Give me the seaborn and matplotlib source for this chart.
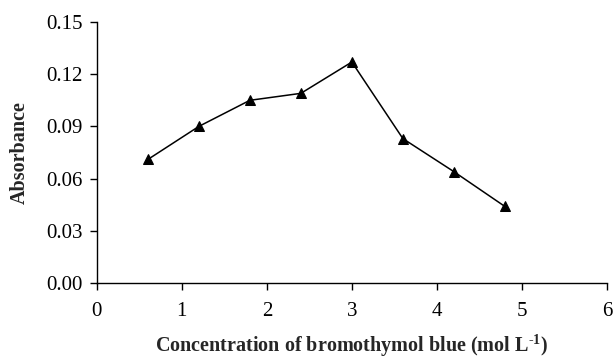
"""
Absorbance vs bromothymol blue concentration
"""

import matplotlib
matplotlib.use("Agg")
import matplotlib.pyplot as plt
import seaborn as sns
import pandas as pd

# Data
concentration = [0.6, 1.2, 1.8, 2.4, 3.0, 3.6, 4.2, 4.8]
absorbance = [0.071, 0.090, 0.105, 0.109, 0.127, 0.083, 0.064, 0.044]
x_ticks = [0, 1, 2, 3, 4, 5, 6]
y_ticks = [0.00, 0.03, 0.06, 0.09, 0.12, 0.15]

sns.set_style("ticks")
plt.rcParams['font.family'] = ['Liberation Serif', 'DejaVu Serif']
plt.rcParams['mathtext.fontset'] = 'custom'
plt.rcParams['mathtext.rm'] = 'Liberation Serif:bold'
plt.rcParams['mathtext.bf'] = 'Liberation Serif:bold'

df = pd.DataFrame({'conc': concentration, 'abs': absorbance})

fig = plt.figure(figsize=(6.13, 3.58), dpi=100)
ax = fig.add_axes([0.158, 0.2095, 0.832, 0.729])

sns.lineplot(data=df, x='conc', y='abs', ax=ax, color='black',
             linewidth=1.1, marker='^', markersize=7,
             markeredgecolor='black', markerfacecolor='black')

ax.set_xlim(0, 6)
ax.set_ylim(0, 0.15)
ax.set_xticks(x_ticks)
ax.set_yticks(y_ticks)
ax.set_xticklabels([str(t) for t in x_ticks])
ax.set_yticklabels([f'{t:.2f}' for t in y_ticks])
ax.tick_params(axis='both', labelsize=15, direction='out', length=5,
               width=1, color='black', labelcolor='black')
ax.tick_params(axis='x', pad=9)
ax.tick_params(axis='y', pad=5)

for side in ['left', 'bottom']:
    ax.spines[side].set_color('black')
    ax.spines[side].set_linewidth(1)
sns.despine(ax=ax)

ax.set_xlabel(r'Concentration of bromothymol blue (mol L$^{\text{-}1}$)',
              fontsize=14.5, fontweight='bold', labelpad=8)
ax.set_ylabel('Absorbance', fontsize=14.5, fontweight='bold', labelpad=12)

fig.savefig('out.png', dpi=100)
plt.close(fig)
